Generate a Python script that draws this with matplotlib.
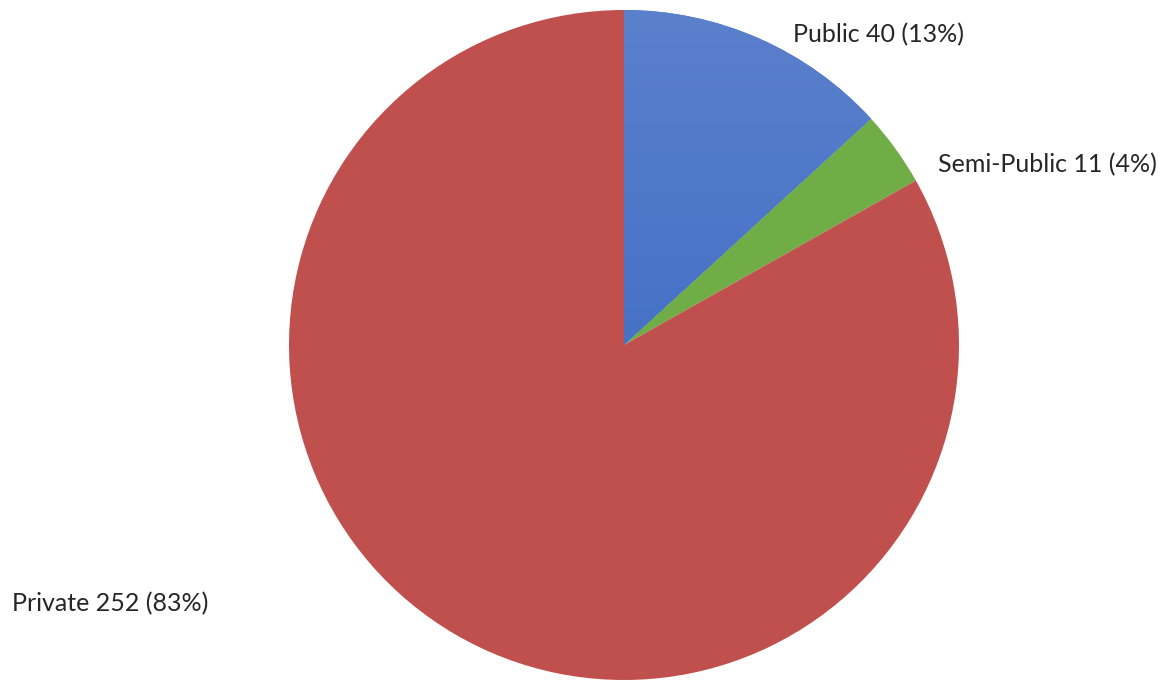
import numpy as np
import matplotlib.pyplot as plt
from matplotlib.colors import LinearSegmentedColormap

# Data
categories = ['Public', 'Semi-Public', 'Private']
counts = [40, 11, 252]
colors = ['#4570c6', '#70ad47', '#c0504d']

# label anchors (data coords, pie radius = 1)
label_pos = [(0.505, 0.925), (0.937, 0.537), (-1.827, -0.773)]

W, H = 1168, 682
cx, cy, r = 624, 345, 335

fig = plt.figure(figsize=(W / 100, H / 100), dpi=100)
ax = fig.add_axes([(cx - r) / W, (H - cy - r) / H, 2 * r / W, 2 * r / H])

wedges, _ = ax.pie(counts, colors=colors, startangle=90, counterclock=False,
                   radius=1, wedgeprops=dict(linewidth=0))

# vertical gradient on the blue slice (lighter at the top)
grad = np.linspace(0, 1, 256).reshape(-1, 1)
cmap = LinearSegmentedColormap.from_list('blu', ['#3063c0', '#5b80cc'])
img = ax.imshow(grad, cmap=cmap, extent=[-1, 1, -1, 1], origin='lower',
                aspect='auto', zorder=wedges[0].get_zorder() + 0.1)
img.set_clip_path(wedges[0])

total = sum(counts)
for name, n, (x, y) in zip(categories, counts, label_pos):
    pct = round(100 * n / total)
    ax.text(x, y, f"{name} {n} ({pct}%)", fontsize=18, family='Lato',
            color='#262626', ha='left', va='center', clip_on=False)

ax.set_xlim(-1, 1)
ax.set_ylim(-1, 1)
ax.set_aspect('auto')
ax.axis('off')

fig.savefig('out.png', dpi=100)
